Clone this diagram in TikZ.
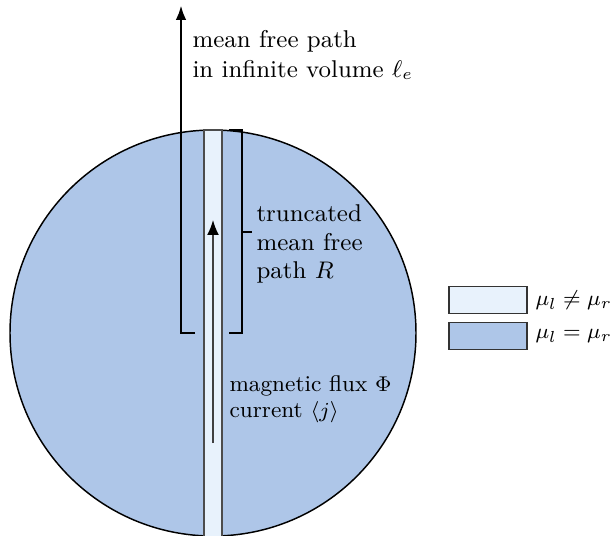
\documentclass[tikz,border=0pt]{standalone}
\usetikzlibrary{arrows.meta}
\definecolor{diskblue}{RGB}{174,198,232}
\definecolor{striplight}{RGB}{232,242,252}
\tikzset{
  brk/.style={line width=1.1pt, black},
  lbl/.style={align=left, inner sep=0pt},
  legbox/.style={draw=black!80, line width=0.5pt, minimum width=78*0.375pt, minimum height=27*0.375pt, inner sep=0pt},
  tipbig/.style={-{Latex[length=5.6pt,width=4pt]}}
}
\begin{document}
\begin{tikzpicture}[x=0.375pt,y=-0.375pt]
\useasboundingbox (0,0) rectangle (614,535);
\begin{scope}
\clip (0,0) rectangle (614,535);
\node[circle, draw=black, line width=0.55pt, fill=diskblue, minimum size=406*0.375pt, inner sep=0pt] (disk) at (213,333) {};
\fill[striplight, draw=black!70, line width=0.6pt] (204,130) rectangle (222,545);
\end{scope}
\node[inner sep=0pt, minimum size=0pt] (strip) at (213,130) {};
% left bracket with arrow
\coordinate (lb) at (195,333);
\coordinate (lc) at (181,333);
\coordinate (lt) at (181,5);
\draw[brk, tipbig] (lb) -- (lc) -- (lt);
% right bracket
\coordinate (r1) at (229,130);
\coordinate (r2) at (242,130);
\coordinate (r3) at (242,333);
\coordinate (r4) at (229,333);
\coordinate (rm) at (242,232);
\coordinate (rt) at (252,232);
\draw[brk] (r1) -- (r2) -- (r3) -- (r4);
\draw[brk] (rm) -- (rt);
% current arrow
\coordinate (ab) at (213,443);
\coordinate (at) at (213,220);
\draw[black!75, line width=0.5pt, -{Latex[length=5.6pt,width=4.4pt,color=black]}] (ab) -- (at);
% labels
\node[lbl, anchor=west, font=\fontsize{9.1pt}{11.2pt}\selectfont] (mfp) at (192,55) {mean free path\\in infinite volume $\ell_e$};
\node[lbl, anchor=west, font=\fontsize{9.1pt}{10.6pt}\selectfont] (trunc) at (256,244) {truncated\\mean free\\path $R$};
\node[lbl, anchor=west, font=\fontsize{8.5pt}{9.8pt}\selectfont] (flux) at (229,399) {magnetic flux $\Phi$\\current $\langle j\rangle$};
% legend
\node[legbox, fill=striplight] (leg1) at (488,300) {};
\node[legbox, fill=diskblue] (leg2) at (488,336) {};
\node[lbl, anchor=west, font=\fontsize{8.4pt}{11pt}\selectfont] (leg1t) at (535,300) {$\mu_l\neq\mu_r$};
\node[lbl, anchor=west, font=\fontsize{8.4pt}{11pt}\selectfont] (leg2t) at (535,336) {$\mu_l=\mu_r$};
\end{tikzpicture}
\end{document}
